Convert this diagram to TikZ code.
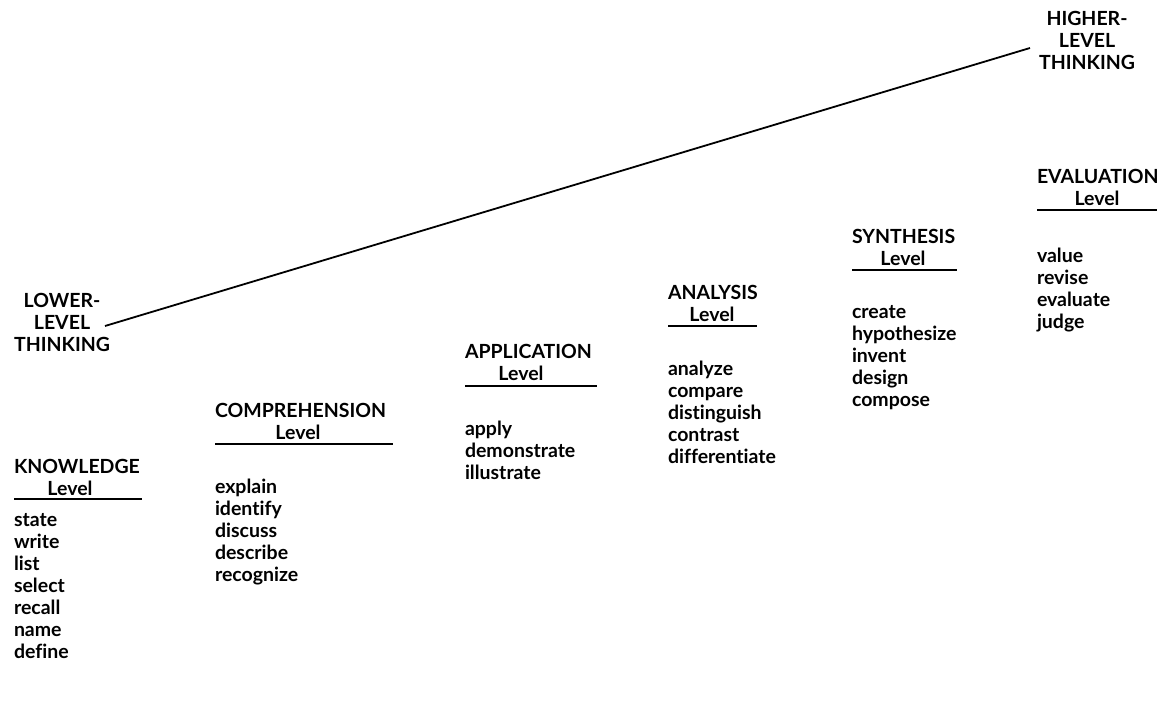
\documentclass[tikz,border=0pt]{standalone}
\usepackage{fontspec}
\setmainfont{Lato}[UprightFont=* Bold,Ligatures=NoCommon]
\begin{document}
\begin{tikzpicture}[x=1pt,y=-1pt,
  txt/.style={inner sep=0pt,outer sep=0pt,font=\fontsize{19.5}{22}\selectfont,align=left,anchor=base west},
  list/.style={txt,anchor=north west},
  ctxt/.style={inner sep=0pt,outer sep=0pt,font=\fontsize{19.5}{22}\selectfont,align=center},
  lvl/.style={ctxt,anchor=base},
  rule/.style={line width=1.8pt},
  conn/.style={line width=1.8pt}]
\useasboundingbox (0,0) rectangle (1172,714);
% thinking labels
\node[ctxt] (low) at (62,322) {LOWER-\\LEVEL\\THINKING};
\node[ctxt] (high) at (1087,40) {HIGHER-\\LEVEL\\THINKING};
\coordinate (lowend) at (105,326);
\coordinate (highend) at (1030,48);
\draw[conn] (lowend) -- (highend);
% KNOWLEDGE
\node[txt] (k) at (14,473) {KNOWLEDGE};
\node[lvl] (kl) at (70,495) {Level};
\coordinate (k1) at (14,499); \coordinate (k2) at (142,499);
\draw[rule] (k1) -- (k2);
\node[list] (kw) at (14,513) {state\\write\\list\\select\\recall\\name\\define};
% COMPREHENSION
\node[txt] (c) at (215,417) {COMPREHENSION};
\node[lvl] (cl) at (298,439) {Level};
\coordinate (c1) at (215,444); \coordinate (c2) at (393,444);
\draw[rule] (c1) -- (c2);
\node[list] (cw) at (215,479) {explain\\identify\\discuss\\describe\\recognize};
% APPLICATION
\node[txt] (a) at (465,358) {APPLICATION};
\node[lvl] (al) at (521,380) {Level};
\coordinate (a1) at (465,386); \coordinate (a2) at (597,386);
\draw[rule] (a1) -- (a2);
\node[list] (aw) at (465,421) {apply\\demonstrate\\illustrate};
% ANALYSIS
\node[txt] (n) at (668,299) {ANALYSIS};
\node[lvl] (nl) at (712,321) {Level};
\coordinate (n1) at (668,326); \coordinate (n2) at (757,326);
\draw[rule] (n1) -- (n2);
\node[list] (nw) at (668,361) {analyze\\compare\\distinguish\\contrast\\differentiate};
% SYNTHESIS
\node[txt] (s) at (852,243) {SYNTHESIS};
\node[lvl] (sl) at (903,265) {Level};
\coordinate (s1) at (852,270); \coordinate (s2) at (957,270);
\draw[rule] (s1) -- (s2);
\node[list] (sw) at (852,305) {create\\hypothesize\\invent\\design\\compose};
% EVALUATION
\node[txt] (e) at (1037,184) {EVALUATION};
\node[lvl] (el) at (1097,206) {Level};
\coordinate (e1) at (1037,210); \coordinate (e2) at (1157,210);
\draw[rule] (e1) -- (e2);
\node[list] (ew) at (1037,248) {value\\revise\\evaluate\\judge};
\end{tikzpicture}
\end{document}
